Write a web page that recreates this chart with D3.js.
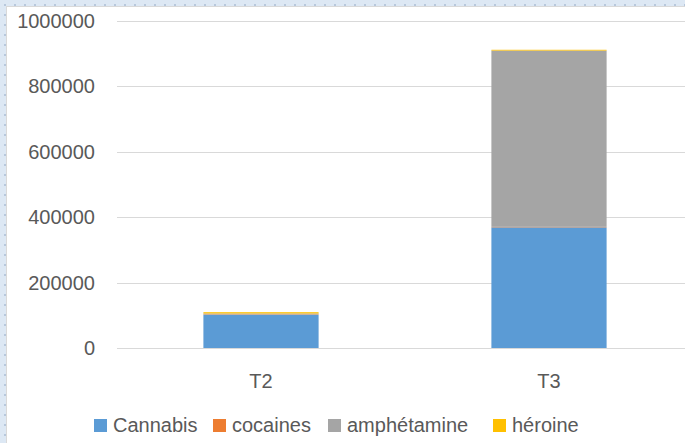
<!DOCTYPE html>
<html>
<head>
<meta charset="utf-8">
<script src="https://cdn.jsdelivr.net/npm/d3@7"></script>
<style>
  body { margin: 0; background: #fff; }
  svg text { font-family: "Liberation Sans", Arial, sans-serif; fill: #595959; }
</style>
</head>
<body>
<div class="chart"></div>
<script>
// data
var categories = ["T2", "T3"];
var seriesNames = ["Cannabis", "cocaines", "amphétamine", "héroine"];
var cannabis = [101000, 369000];
var cocaines = [1500, 1500];
var amphetamine = [3000, 539000];
var heroine = [4000, 2500];
var yTicks = [0, 200000, 400000, 600000, 800000, 1000000];
var colors = ["#5b9bd5", "#ed7d31", "#a5a5a5", "#ffc000"];

var svgWidth = 685, svgHeight = 443;
var margin = { top: 21, left: 117, bottom: 95 };
var plotWidth = 576;
var height = svgHeight - margin.top - margin.bottom;

var svg = d3.select(".chart").append("svg")
  .attr("width", svgWidth)
  .attr("height", svgHeight);

// dotted selection frame
var pat = svg.append("defs").append("pattern")
  .attr("id", "dots").attr("width", 10).attr("height", 10)
  .attr("patternUnits", "userSpaceOnUse");
pat.append("rect").attr("width", 10).attr("height", 10).attr("fill", "#dde8f4");
pat.append("rect").attr("x", 4).attr("y", 4).attr("width", 2).attr("height", 2).attr("fill", "#b8c8dc");
svg.append("rect").attr("width", svgWidth).attr("height", svgHeight).attr("fill", "url(#dots)");
svg.append("rect")
  .attr("x", 6.5).attr("y", 6.5)
  .attr("width", svgWidth + 10).attr("height", svgHeight + 10)
  .attr("fill", "#fff").attr("stroke", "#d9d9d9");

var table = categories.map(function(c, i) {
  return { cat: c, Cannabis: cannabis[i], cocaines: cocaines[i], "amphétamine": amphetamine[i], "héroine": heroine[i] };
});
var stacked = d3.stack().keys(seriesNames)(table);

var x = d3.scaleBand().domain(categories).range([0, plotWidth]).paddingInner(0.6).paddingOuter(0.3);
var y = d3.scaleLinear().domain([0, 1000000]).range([height, 0]);

var chart = svg.append("g")
  .attr("transform", "translate(" + margin.left + "," + margin.top + ")");

// gridlines
chart.selectAll(".grid").data(yTicks).enter().append("line")
  .attr("x1", 0).attr("x2", plotWidth)
  .attr("y1", function(d) { return Math.round(y(d)) + 0.5; })
  .attr("y2", function(d) { return Math.round(y(d)) + 0.5; })
  .attr("stroke", "#d9d9d9").attr("stroke-width", 1);

// y labels
chart.selectAll(".ylab").data(yTicks).enter().append("text")
  .attr("x", -22)
  .attr("y", function(d) { return y(d); })
  .attr("dy", "0.35em")
  .attr("text-anchor", "end")
  .style("font-size", "20px")
  .text(function(d) { return d; });

// bars
chart.selectAll(".series").data(stacked).enter().append("g")
  .attr("fill", function(d, i) { return colors[i]; })
  .selectAll("rect").data(function(d) { return d; }).enter().append("rect")
  .attr("x", function(d) { return x(d.data.cat); })
  .attr("width", x.bandwidth())
  .attr("y", function(d) { return y(d[1]); })
  .attr("height", function(d) { return y(d[0]) - y(d[1]); });

// x labels
chart.selectAll(".xlab").data(categories).enter().append("text")
  .attr("x", function(d) { return x(d) + x.bandwidth() / 2; })
  .attr("y", height + 33)
  .attr("dy", "0.35em")
  .attr("text-anchor", "middle")
  .style("font-size", "20px")
  .text(function(d) { return d; });

// legend
var legendX = [94, 213, 328, 493];
var legend = svg.selectAll(".legend").data(seriesNames).enter().append("g")
  .attr("transform", function(d, i) { return "translate(" + legendX[i] + ",419)"; });
legend.append("rect").attr("width", 13).attr("height", 13)
  .attr("fill", function(d, i) { return colors[i]; });
legend.append("text").attr("x", 19).attr("y", 13)
  .style("font-size", "20px")
  .text(function(d) { return d; });
</script>
</body>
</html>
